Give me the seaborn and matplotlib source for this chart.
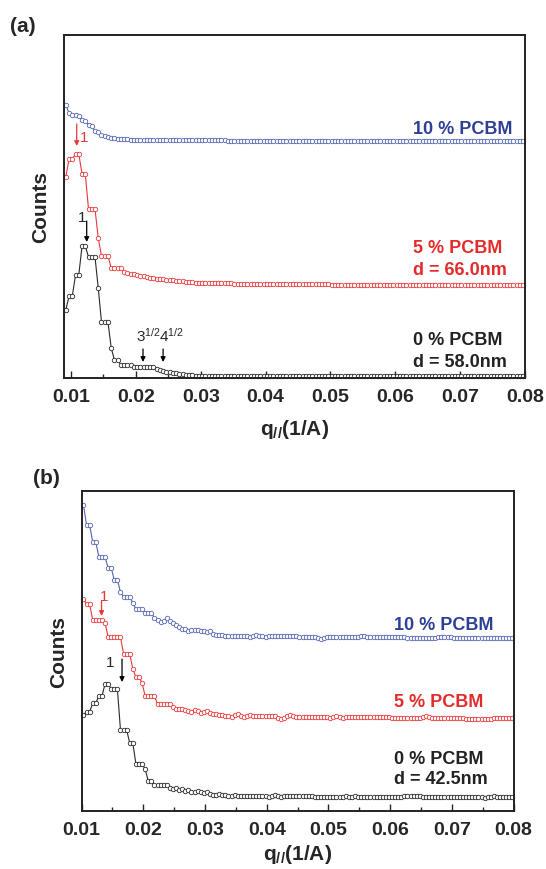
import numpy as np
import pandas as pd
import matplotlib
matplotlib.use('Agg')
import matplotlib.pyplot as plt
import seaborn as sns
from matplotlib.ticker import MultipleLocator, NullLocator

# ============================
# Data
# ============================
# panel (a): q grid 0.0092 .. 0.0797, step 0.0005
qa_start, qa_step = 0.0092, 0.0005
blue_a = ([273, 265, 263, 263, 262, 258, 257, 253, 252, 247, 246, 243, 242, 241,
           240, 240, 239, 239, 239, 239]
          + [238] * 30 + [237.5] * 40 + [237] * 52)
red_a = ([201, 219, 219, 224, 224, 204, 204, 169, 169, 169, 140, 122, 122, 122,
          110, 110, 110, 110, 106, 105, 104, 104, 103, 102, 102, 101,
          100, 100, 99, 99, 99, 98, 98, 98, 97, 97, 97, 96, 96, 96, 95, 95]
         + [95] * 10 + [94] * 30 + [93.5] * 30 + [93] * 30)
black_a = ([68, 82, 82, 103, 103, 132, 132, 121, 121, 121, 90, 56, 56, 56, 30,
            18, 18, 13, 13, 13, 13, 11, 11, 11, 11, 11, 11, 11, 9, 8, 7, 6, 6,
            5, 5, 4, 4, 3.5, 3, 3]
           + [2.5] * 102)

# panel (b): q grid 0.0103 .. 0.0798, step 0.0005
qb_start, qb_step = 0.0103, 0.0005
blue_b = ([306, 286, 286, 269, 269, 254, 254, 254, 243, 243, 231, 231, 219, 214,
           214, 214, 208, 202, 202, 202, 198, 198, 198, 193, 191, 189, 190, 193,
           190, 188, 186, 184, 182, 182, 180, 181, 181, 181, 180, 180, 179, 180,
           177, 176, 176, 176]
          + [175] * 8 + [174, 175, 176, 175, 175, 174] + [175] * 10 + [174] * 6
          + [173, 172, 173, 174] + [174] * 10 + [175, 175, 174] + [174] * 12
          + [173] * 10 + [174] * 5 + [173] * 20)
red_b = ([212, 207, 207, 191, 191, 191, 191, 188, 174, 174, 174, 174, 174, 157,
          157, 157, 142, 134, 134, 128, 115, 115, 115, 115, 107, 107, 107, 107,
          107, 104, 102, 102, 102, 101, 100, 99, 101, 100, 98, 99, 100, 98, 97,
          97, 96]
         + [96, 95, 95, 94, 96, 97, 95, 94, 95, 96] + [95] * 8
         + [93, 92, 93, 95, 96, 95, 94] + [94] * 10 + [93, 94, 95, 94, 93]
         + [94] * 15 + [93] * 10 + [94, 95, 94, 93] + [93] * 10 + [92] * 9
         + [93] * 7)
black_b = ([96, 99, 99, 108, 108, 115, 115, 127, 127, 122, 122, 122, 81, 81, 81,
            68, 68, 47, 47, 47, 42, 30, 30, 26, 26, 26, 26, 26, 23, 22, 23, 21,
            22, 20, 21, 19, 19, 20, 19, 18, 19, 17, 16, 16, 17, 16, 16, 15, 15, 16]
           + [15] * 10 + [14, 15, 16, 15, 14] + [15] * 10 + [14] * 10
           + [15, 14, 14, 15] + [14] * 15 + [15] * 6 + [14] * 20
           + [13, 14, 14, 15] + [14] * 6)

q_a = qa_start + qa_step * np.arange(len(blue_a))
q_b = qb_start + qb_step * np.arange(len(blue_b))

c_black, c_red, c_blue = '#2a2a2a', '#e8383a', '#5566b0'
t_red, t_blue = '#e52a2a', '#2e3f96'

# ============================
# Style
# ============================
sns.set_style('ticks')
plt.rcParams['font.family'] = ['Liberation Sans', 'DejaVu Sans']
plt.rcParams['mathtext.default'] = 'regular'
plt.rcParams['mathtext.fontset'] = 'custom'
plt.rcParams['mathtext.rm'] = 'Liberation Sans'
plt.rcParams['mathtext.bf'] = 'Liberation Sans:bold'

fig = plt.figure(figsize=(5.46, 8.70), dpi=100)
ax_a = fig.add_axes([64 / 546, 1 - 379 / 870, 461 / 546, 343 / 870])
ax_b = fig.add_axes([81.6 / 546, 1 - 812 / 870, 432 / 546, 320 / 870])


def draw_curve(ax, q, vals, col):
    d = pd.DataFrame({'q': q, 'v': vals})
    sns.lineplot(data=d, x='q', y='v', ax=ax, color=col, lw=0.8, marker='o',
                 markersize=3.2, markerfacecolor='white', markeredgecolor=col,
                 markeredgewidth=0.6, clip_on=False)


def style_axis(ax, xmin, ymax, xpad):
    ax.set_xlim(xmin, 0.08)
    ax.set_ylim(0, ymax)
    ax.xaxis.set_minor_locator(MultipleLocator(0.005))
    ax.yaxis.set_major_locator(NullLocator())
    ax.set_xticks(np.arange(0.01, 0.0801, 0.01))
    ax.set_xticklabels(['0.01', '0.02', '0.03', '0.04', '0.05', '0.06', '0.07', '0.08'],
                       fontweight='bold')
    ax.tick_params(axis='x', which='major', direction='in', length=5, width=1,
                   pad=7, labelsize=14)
    ax.tick_params(axis='x', which='minor', direction='in', length=3, width=1)
    for s in ax.spines.values():
        s.set_linewidth(1.4)
        s.set_color('#222222')
    ax.set_xlabel(r'q$_{//}$(1/A)', fontsize=15, fontweight='bold', labelpad=xpad)
    ax.set_ylabel('Counts', fontsize=15, fontweight='bold', labelpad=10)


def arrow(ax, q, v0, v1, col):
    ax.annotate('', xy=(q, v1), xytext=(q, v0),
                arrowprops=dict(arrowstyle='-|>', color=col, lw=0.9,
                                mutation_scale=7, shrinkA=0, shrinkB=0))


# ============================
# Panel (a)
# ============================
draw_curve(ax_a, q_a, black_a, c_black)
draw_curve(ax_a, q_a, red_a, c_red)
draw_curve(ax_a, q_a, blue_a, c_blue)
style_axis(ax_a, 0.00892, 343, 9)

ax_a.text(0.0627, 250, '10 % PCBM', color=t_blue, fontsize=13, fontweight='bold', va='center')
ax_a.text(0.0627, 130, '5 % PCBM', color=t_red, fontsize=13, fontweight='bold', va='center')
ax_a.text(0.0627, 108, 'd = 66.0nm', color=t_red, fontsize=13, fontweight='bold', va='center')
ax_a.text(0.0627, 38, '0 % PCBM', color='#222222', fontsize=13, fontweight='bold', va='center')
ax_a.text(0.0627, 16, 'd = 58.0nm', color='#222222', fontsize=13, fontweight='bold', va='center')

arrow(ax_a, 0.01242, 157, 136, 'black')
ax_a.text(0.0117, 161, '1', fontsize=11, ha='center', va='center')
arrow(ax_a, 0.01088, 254, 232, c_red)
ax_a.text(0.0120, 241, '1', color=c_red, fontsize=11, ha='center', va='center')
arrow(ax_a, 0.0211, 29, 16, 'black')
arrow(ax_a, 0.0242, 29, 16, 'black')
ax_a.text(0.0200, 43, r'$3^{1/2}$', fontsize=11, va='center')
ax_a.text(0.0235, 43, r'$4^{1/2}$', fontsize=11, va='center')

# ============================
# Panel (b)
# ============================
draw_curve(ax_b, q_b, black_b, c_black)
draw_curve(ax_b, q_b, red_b, c_red)
draw_curve(ax_b, q_b, blue_b, c_blue)
style_axis(ax_b, 0.01, 320, 3)

ax_b.text(0.0606, 186, '10 % PCBM', color=t_blue, fontsize=13, fontweight='bold', va='center')
ax_b.text(0.0606, 109, '5 % PCBM', color=t_red, fontsize=13, fontweight='bold', va='center')
ax_b.text(0.0606, 52, '0 % PCBM', color='#222222', fontsize=13, fontweight='bold', va='center')
ax_b.text(0.0606, 32, 'd = 42.5nm', color='#222222', fontsize=13, fontweight='bold', va='center')

arrow(ax_b, 0.01655, 152, 129, 'black')
ax_b.text(0.0146, 149, '1', fontsize=11, ha='center', va='center')
arrow(ax_b, 0.01323, 210, 195, c_red)
ax_b.text(0.01363, 215, '1', color=c_red, fontsize=11, ha='center', va='center')

fig.text(10 / 546, 1 - 26 / 870, '(a)', fontsize=15, fontweight='bold', va='center')
fig.text(33 / 546, 1 - 479 / 870, '(b)', fontsize=15, fontweight='bold', va='center')

fig.savefig('out.png', dpi=100)
